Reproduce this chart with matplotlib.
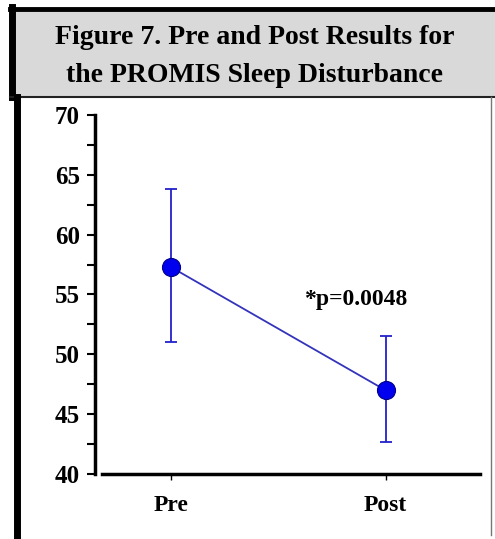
import numpy as np
import matplotlib
matplotlib.use("Agg")
import matplotlib.pyplot as plt
from matplotlib.patches import Rectangle
from matplotlib.lines import Line2D
from matplotlib.ticker import MultipleLocator

# data
groups = ["Pre", "Post"]
means = [57.3, 47.0]
upper = [63.8, 51.5]
lower = [51.0, 42.7]
p_label = "*p=0.0048"
title_lines = ["Figure 7. Pre and Post Results for", "the PROMIS Sleep Disturbance"]

plt.rcParams["font.family"] = ["Liberation Serif", "DejaVu Serif"]
plt.rcParams["font.weight"] = "bold"

W, H = 495, 539
fig = plt.figure(figsize=(W / 100, H / 100), dpi=100)

def fx(px):
    return px / W

def fy(py):
    return 1 - py / H

# title box (gray, thick black top/left edges)
fig.patches.append(Rectangle((fx(10), fy(97)), fx(495) - fx(10), fy(8) - fy(97),
                             transform=fig.transFigure, facecolor="#d9d9d9",
                             edgecolor="none", zorder=0))
fig.lines.append(Line2D([fx(10), fx(495)], [fy(9), fy(9)], transform=fig.transFigure,
                        color="black", lw=3.5))
fig.lines.append(Line2D([fx(12), fx(12)], [fy(7), fy(97)], transform=fig.transFigure,
                        color="black", lw=5))
fig.lines.append(Line2D([fx(10), fx(495)], [fy(97), fy(97)], transform=fig.transFigure,
                        color="#222222", lw=1.5))
fig.text(fx(255), fy(38), title_lines[0], ha="center", va="center", fontsize=20,
         fontweight="bold")
fig.text(fx(255), fy(75), title_lines[1], ha="center", va="center", fontsize=20,
         fontweight="bold")

# frame around the chart
fig.lines.append(Line2D([fx(17), fx(17)], [fy(97), fy(539)], transform=fig.transFigure,
                        color="black", lw=5))
fig.lines.append(Line2D([fx(491), fx(491)], [fy(97), fy(535)], transform=fig.transFigure,
                        color="#777777", lw=1))

ax = fig.add_axes([fx(102), fy(474), fx(480) - fx(102), fy(115) - fy(474)])
x = np.arange(len(groups))
m = np.array(means)
yerr = np.vstack([m - np.array(lower), np.array(upper) - m])
ax.errorbar(x, m, yerr=yerr, fmt="none", ecolor="#2222cc", elinewidth=1.3,
            capsize=4, capthick=1.3, zorder=2)
ax.plot(x, m, color="#3333bb", lw=1.3, zorder=3)
ax.plot(x, m, "o", color="#0000ee", mec="#000088", mew=0.8, ms=13, zorder=4)

ax.text(0.86, 54.6, p_label, ha="center", va="center", fontsize=17, fontweight="bold")

ax.set_xlim(-0.32, 1.44)
ax.set_ylim(40, 70)
ax.set_xticks(x)
ax.set_xticklabels(groups)
ax.yaxis.set_major_locator(MultipleLocator(5))
ax.yaxis.set_minor_locator(MultipleLocator(2.5))

for s in ("top", "right"):
    ax.spines[s].set_visible(False)
ax.spines["left"].set_position(("outward", 5))
ax.spines["left"].set_linewidth(2.5)
ax.spines["bottom"].set_linewidth(2.5)
ax.tick_params(axis="y", which="major", length=6, width=1.5, pad=5, labelsize=18)
ax.tick_params(axis="y", which="minor", length=6, width=1.5)
ax.tick_params(axis="x", length=4, width=1, pad=11, labelsize=17)
ax.patch.set_alpha(0)

fig.savefig("out.png", dpi=100)
